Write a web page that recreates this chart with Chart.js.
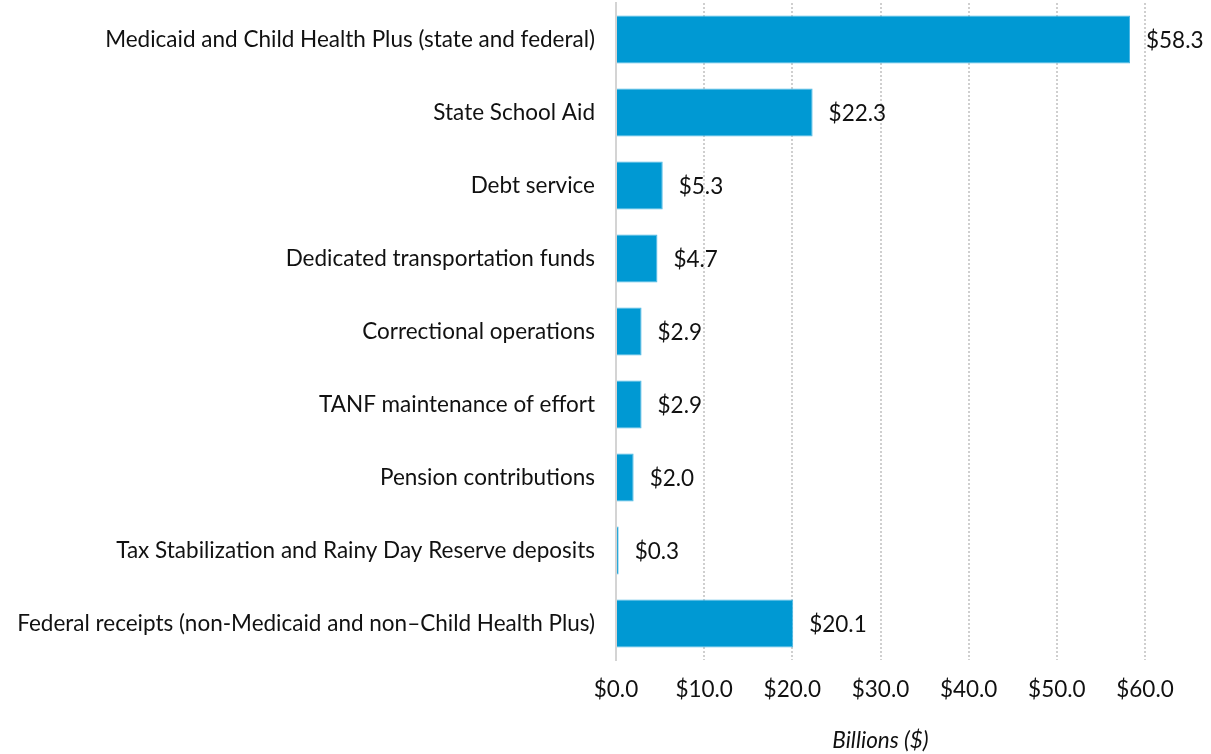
<!DOCTYPE html>
<html>
<head>
<meta charset="utf-8">
<script src="https://cdn.jsdelivr.net/npm/chart.js@4"></script>
<style>
  html, body { margin: 0; padding: 0; background: #fff; }
  #wrap { width: 1211px; height: 754px; }
</style>
</head>
<body>
<div id="wrap"><canvas id="chart"></canvas></div>
<script>
// categories and values (billions of dollars)
const categories = [
  'Medicaid and Child Health Plus (state and federal)',
  'State School Aid',
  'Debt service',
  'Dedicated transportation funds',
  'Correctional operations',
  'TANF maintenance of effort',
  'Pension contributions',
  'Tax Stabilization and Rainy Day Reserve deposits',
  'Federal receipts (non-Medicaid and non\u2013Child Health Plus)'
];
const values = [58.3, 22.3, 5.3, 4.7, 2.9, 2.9, 2.0, 0.3, 20.1];
const xTicks = [0, 10, 20, 30, 40, 50, 60];

const FONT = 'Lato, "Noto Sans", sans-serif';
const FS = 22.5;

// draws the "$xx.x" label just past the end of each bar
const valueLabels = {
  id: 'valueLabels',
  afterDatasetsDraw(chart) {
    const { ctx } = chart;
    const meta = chart.getDatasetMeta(0);
    ctx.save();
    ctx.font = FS + 'px ' + FONT;
    ctx.fillStyle = '#111';
    ctx.textAlign = 'left';
    ctx.textBaseline = 'middle';
    meta.data.forEach((bar, i) => {
      ctx.fillText('$' + values[i].toFixed(1), bar.x + 16, bar.y + 1);
    });
    ctx.restore();
  }
};

new Chart(document.getElementById('chart'), {
  type: 'bar',
  data: {
    labels: categories,
    datasets: [{
      data: values,
      backgroundColor: '#0099d3',
      borderColor: '#4db8e4',
      borderWidth: 1,
      borderSkipped: 'left',
      categoryPercentage: 0.66,
      barPercentage: 1
    }]
  },
  plugins: [valueLabels],
  options: {
    indexAxis: 'y',
    responsive: true,
    maintainAspectRatio: false,
    animation: false,
    layout: { padding: { top: 3, right: 66, bottom: 0, left: 10 } },
    plugins: {
      legend: { display: false },
      tooltip: { enabled: false }
    },
    scales: {
      x: {
        min: 0,
        max: 60,
        afterBuildTicks: (axis) => { axis.ticks = xTicks.map(v => ({ value: v })); },
        grid: {
          drawTicks: false,
          color: (c) => c.index === 0 ? 'rgba(0,0,0,0)' : '#cfcfcf',
          lineWidth: 2
        },
        border: { display: false, dash: [2, 2] },
        ticks: {
          padding: 16,
          color: '#111',
          font: { family: FONT, size: FS },
          callback: (v) => '$' + Number(v).toFixed(1)
        },
        title: {
          display: true,
          text: 'Billions ($)',
          color: '#111',
          padding: { top: 8, bottom: 0 },
          font: { family: FONT, size: FS, style: 'italic' }
        }
      },
      y: {
        // tick marks (invisible) give the gap between labels and axis
        grid: {
          display: true,
          drawOnChartArea: false,
          drawTicks: true,
          tickLength: 21,
          tickColor: 'rgba(0,0,0,0)',
          color: 'rgba(0,0,0,0)'
        },
        border: { display: true, color: '#d4d4d4', width: 2 },
        ticks: {
          padding: 0,
          color: '#111',
          font: { family: FONT, size: FS }
        },
        afterFit: (scale) => {
          scale.width = 606;
          scale.paddingTop = 0;
          scale.paddingBottom = 0;
        }
      }
    }
  }
});
</script>
</body>
</html>
